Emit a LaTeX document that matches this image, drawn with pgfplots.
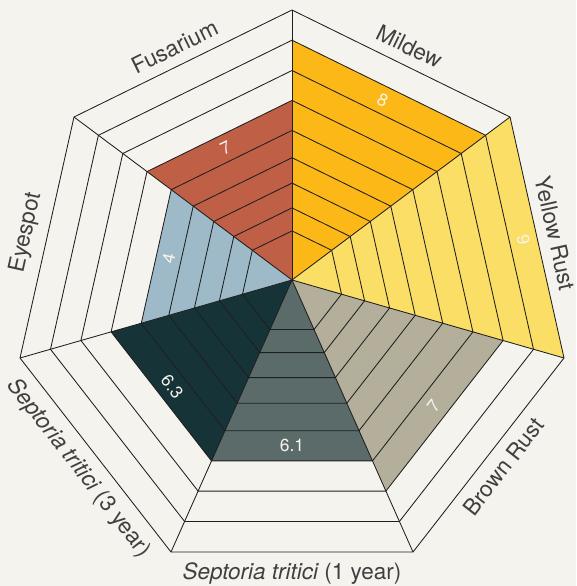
\documentclass[border=0pt]{standalone}
\usepackage{pgfplots}
\pgfplotsset{compat=1.18}
\usepackage{fontspec}
\setmainfont{TeX Gyre Heros}
\definecolor{bg}{HTML}{F5F3EE}
\definecolor{cMildew}{HTML}{FBB817}
\definecolor{cYellow}{HTML}{FADE65}
\definecolor{cBrown}{HTML}{B4AF9B}
\definecolor{cSepA}{HTML}{5B6B6A}
\definecolor{cSepB}{HTML}{163337}
\definecolor{cEye}{HTML}{9EBAC8}
\definecolor{cFus}{HTML}{BE5F46}
\definecolor{txt}{HTML}{404040}
\definecolor{valtxt}{HTML}{F7F4EE}
\tikzset{
  ring/.style={draw=black!88, line width=0.85pt, fill=none, mark=none},
  sector/.style={draw=none, mark=none},
  cat/.style={font=\fontsize{22.5}{26}\selectfont, text=txt, inner sep=10.5pt, outer sep=0pt},
  val/.style={font=\fontsize{17.5}{20}\selectfont, text=valtxt, inner sep=0pt},
}
\begin{document}
\begin{tikzpicture}
\begin{axis}[
  scale only axis, width=576pt, height=586pt,
  xmin=-292, xmax=284, ymin=-306, ymax=280,
  axis line style={draw=none}, xtick=\empty, ytick=\empty,
  axis background/.style={fill=bg},
  clip=false,
]
% sector fills (apex, ring vertex, ring vertex)
\addplot[sector, fill=cMildew] coordinates {(0,0) (0,239.8) (193.6,144.7)} -- cycle;
\addplot[sector, fill=cYellow] coordinates {(0,0) (218,163) (272,-78)} -- cycle;
\addplot[sector, fill=cBrown] coordinates {(0,0) (211.1,-60.5) (93.9,-211.1)} -- cycle;
\addplot[sector, fill=cSepA] coordinates {(0,0) (80.5,-180.9) (-80.5,-180.9)} -- cycle;
\addplot[sector, fill=cSepB] coordinates {(0,0) (-80.5,-180.9) (-180.9,-51.9)} -- cycle;
\addplot[sector, fill=cEye] coordinates {(0,0) (-150.7,-43.2) (-120.8,90.3)} -- cycle;
\addplot[sector, fill=cFus] coordinates {(0,0) (-145.0,108.4) (0,179.6)} -- cycle;
% rings
\addplot[ring] coordinates {(0,49.1) (39.7,29.7) (49.5,-14.2) (22.0,-49.5) (-22.0,-49.5) (-49.5,-14.2) (-39.7,29.7)} -- cycle;
\addplot[ring] coordinates {(0,72.1) (58.2,43.5) (72.6,-20.8) (32.3,-72.6) (-32.3,-72.6) (-72.6,-20.8) (-58.2,43.5)} -- cycle;
\addplot[ring] coordinates {(0,96.9) (78.3,58.5) (97.6,-28.0) (43.4,-97.6) (-43.4,-97.6) (-97.6,-28.0) (-78.3,58.5)} -- cycle;
\addplot[ring] coordinates {(0,122.3) (98.8,73.8) (123.2,-35.3) (54.8,-123.2) (-54.8,-123.2) (-123.2,-35.3) (-98.8,73.8)} -- cycle;
\addplot[ring] coordinates {(0,149.6) (120.8,90.3) (150.7,-43.2) (67.0,-150.7) (-67.0,-150.7) (-150.7,-43.2) (-120.8,90.3)} -- cycle;
\addplot[ring] coordinates {(0,179.6) (145.0,108.4) (180.9,-51.9) (80.5,-180.9) (-80.5,-180.9) (-180.9,-51.9) (-145.0,108.4)} -- cycle;
\addplot[ring] coordinates {(0,209.5) (169.2,126.5) (211.1,-60.5) (93.9,-211.1) (-93.9,-211.1) (-211.1,-60.5) (-169.2,126.5)} -- cycle;
\addplot[ring] coordinates {(0,239.8) (193.6,144.7) (241.5,-69.3) (107.4,-241.5) (-107.4,-241.5) (-241.5,-69.3) (-193.6,144.7)} -- cycle;
\addplot[ring] coordinates {(0,270) (218,163) (272,-78) (121,-272) (-121,-272) (-272,-78) (-218,163)} -- cycle;
% radial lines
\addplot[ring] coordinates {(0,0) (0,270)};
\addplot[ring] coordinates {(0,0) (218,163)};
\addplot[ring] coordinates {(0,0) (272,-78)};
\addplot[ring] coordinates {(0,0) (121,-272)};
\addplot[ring] coordinates {(0,0) (-121,-272)};
\addplot[ring] coordinates {(0,0) (-272,-78)};
\addplot[ring] coordinates {(0,0) (-218,163)};
% category labels
\node[cat, rotate=-26.1, anchor=south] at (axis cs:109,216.5) {Mildew};
\node[cat, rotate=-77.4, anchor=south] at (axis cs:245,42.5) {Yellow Rust};
\node[cat, rotate=52.1, anchor=north] at (axis cs:196.5,-175) {Brown Rust};
\node[cat, anchor=north] at (axis cs:0,-272) {{\itshape Septoria tritici} (1 year)};
\node[cat, rotate=-52.1, anchor=north] at (axis cs:-196.5,-175) {{\itshape Septoria tritici} (3 year)};
\node[cat, rotate=77.4, anchor=south] at (axis cs:-245,42.5) {Eyespot};
\node[cat, rotate=26.1, anchor=south] at (axis cs:-109,216.5) {Fusarium};
% value labels
\node[val, rotate=-26.1] at (axis cs:90.7,180.1) {8};
\node[val, rotate=-77.4] at (axis cs:231.3,40.1) {9};
\node[val, rotate=52.1] at (axis cs:141.6,-126.1) {7};
\node[val] at (axis cs:0,-165.8) {6.1};
\node[val, rotate=-52.1] at (axis cs:-119.8,-106.7) {6.3};
\node[val, rotate=77.4] at (axis cs:-123.4,21.4) {4};
\node[val, rotate=26.1] at (axis cs:-66.4,132.0) {7};
\end{axis}
\pgfresetboundingbox
\path (current axis.south west) rectangle (current axis.north east);
\end{tikzpicture}
\end{document}
